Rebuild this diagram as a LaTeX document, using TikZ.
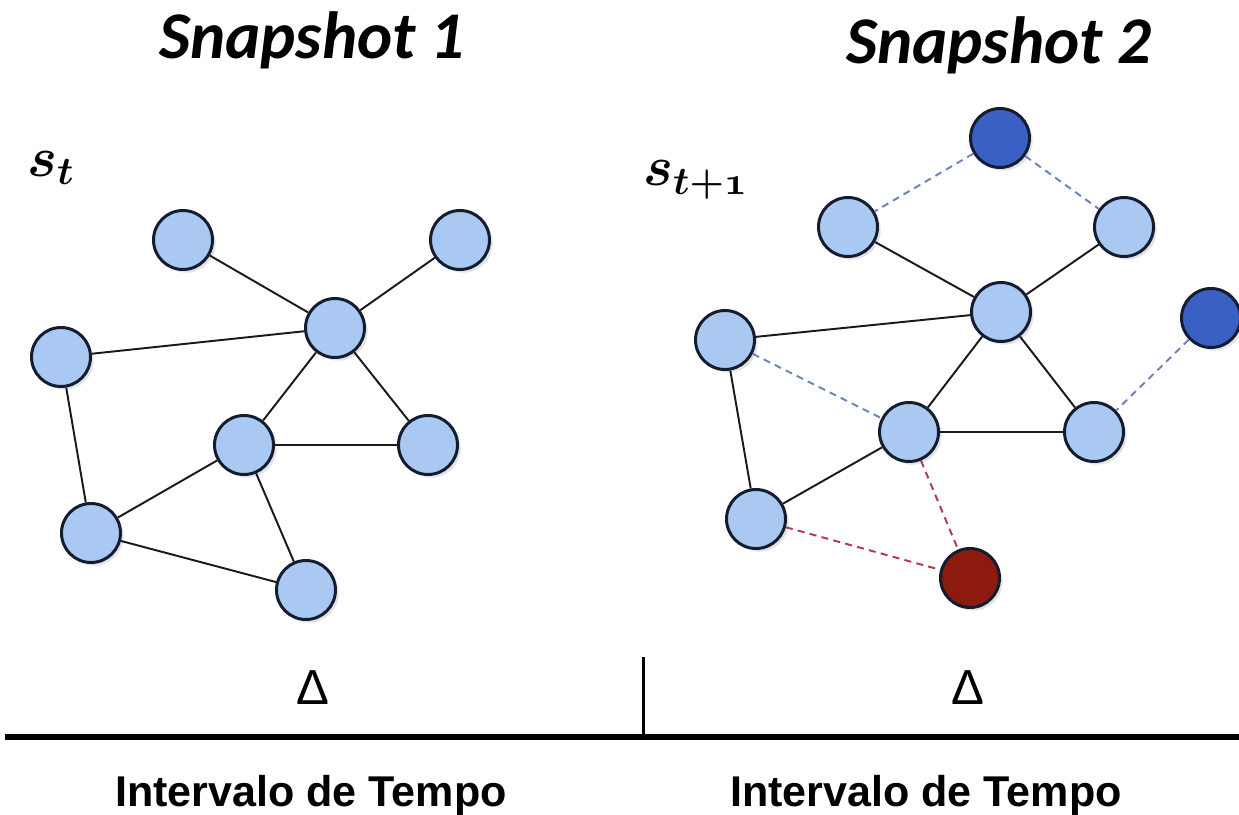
\RequirePackage{fix-cm}
\documentclass[tikz,border=0pt]{standalone}
\usepackage{fontspec}
\usepackage{amsmath,bm}
\usetikzlibrary{shadows}
\newfontfamily\carlito{Carlito}
\newfontfamily\libsans{Liberation Sans}
\definecolor{nodeblue}{HTML}{A9C9F3}
\definecolor{darkblue}{HTML}{3A60C4}
\definecolor{darkred}{HTML}{8C1A0E}
\definecolor{rim}{HTML}{141C30}
\definecolor{dashblue}{HTML}{6A82C0}
\definecolor{dashred}{HTML}{B03A4A}
\newcommand{\oldone}{\mathchar"0131}
\tikzset{
  vtx/.style={circle, draw=rim, line width=1.7pt, fill=nodeblue, minimum size=1.18cm, inner sep=0pt,
    drop shadow={shadow xshift=1.8pt, shadow yshift=-1.8pt, opacity=0.22}},
  vtxdark/.style={vtx, fill=darkblue},
  vtxred/.style={vtx, fill=darkred},
  edge/.style={draw=black!90, line width=1.1pt},
  newedge/.style={draw=dashblue, line width=1.1pt, dash pattern=on 4pt off 3pt},
  goneedge/.style={draw=dashred, line width=1.1pt, dash pattern=on 4pt off 3pt},
  title/.style={font=\carlito\bfseries\itshape\fontsize{38}{44}\selectfont, inner sep=0pt},
  delta/.style={font=\libsans\fontsize{28}{32}\selectfont, inner sep=0pt},
  interval/.style={font=\libsans\bfseries\fontsize{24.5}{28}\selectfont, inner sep=0pt},
  slabel/.style={font=\fontsize{32}{38}\selectfont, inner sep=0pt, anchor=base west}
}
\begin{document}
\begin{tikzpicture}[x=0.02cm, y=-0.02cm]
\useasboundingbox[fill=white] (0,0) rectangle (1239,814);

% titles
\node[title] (t1) at (312,40) {Snapshot 1};
\node[title] (t2) at (999,45) {Snapshot 2};

% labels
\node[slabel] (s1) at (27,176) {$\bm{s_t}$};
\node[slabel] (s2) at (643,186) {$\bm{s_{t+\oldone}}$};

% ---- Snapshot 1 graph ----
\node[vtx] (a1) at (183,240) {};
\node[vtx] (a2) at (460,240) {};
\node[vtx] (a3) at (335,328) {};
\node[vtx] (a4) at (61,357) {};
\node[vtx] (a5) at (244,445) {};
\node[vtx] (a6) at (428,445) {};
\node[vtx] (a7) at (91,533) {};
\node[vtx] (a8) at (306,590) {};

% ---- Snapshot 2 graph ----
\node[vtxdark] (b0) at (1000,138) {};
\node[vtx] (b1) at (848,227) {};
\node[vtx] (b2) at (1124,227) {};
\node[vtx] (b3) at (1001,312) {};
\node[vtxdark] (b9) at (1211,318) {};
\node[vtx] (b4) at (725,340) {};
\node[vtx] (b5) at (909,432) {};
\node[vtx] (b6) at (1094,432) {};
\node[vtx] (b7) at (756,519) {};
\node[vtxred] (b8) at (970,578) {};

% edges
\path[edge] (a1) -- (a3);
\path[edge] (a2) -- (a3);
\path[edge] (a4) -- (a3);
\path[edge] (a3) -- (a5);
\path[edge] (a3) -- (a6);
\path[edge] (a5) -- (a6);
\path[edge] (a4) -- (a7);
\path[edge] (a7) -- (a5);
\path[edge] (a5) -- (a8);
\path[edge] (a7) -- (a8);

\path[edge] (b1) -- (b3);
\path[edge] (b2) -- (b3);
\path[edge] (b4) -- (b3);
\path[edge] (b3) -- (b5);
\path[edge] (b3) -- (b6);
\path[edge] (b5) -- (b6);
\path[edge] (b4) -- (b7);
\path[edge] (b7) -- (b5);
\path[newedge] (b0) -- (b1);
\path[newedge] (b0) -- (b2);
\path[newedge] (b4) -- (b5);
\path[newedge] (b9) -- (b6);
\path[goneedge] (b5) -- (b8);
\path[goneedge] (b7) -- (b8);

% time axis
\coordinate (axl) at (5,737);
\coordinate (axr) at (1239,737);
\coordinate (tickt) at (643,657);
\coordinate (tickb) at (643,737);
\draw[line width=1.7pt] (tickt) -- (tickb);
\draw[line width=3.4pt] (axl) -- (axr);

\node[delta] (d1) at (313,688) {Δ};
\node[delta] (d2) at (968,688) {Δ};

\node[interval, anchor=base] (i1) at (311,806) {Intervalo de Tempo};
\node[interval, anchor=base] (i2) at (926,806) {Intervalo de Tempo};
\end{tikzpicture}
\end{document}
